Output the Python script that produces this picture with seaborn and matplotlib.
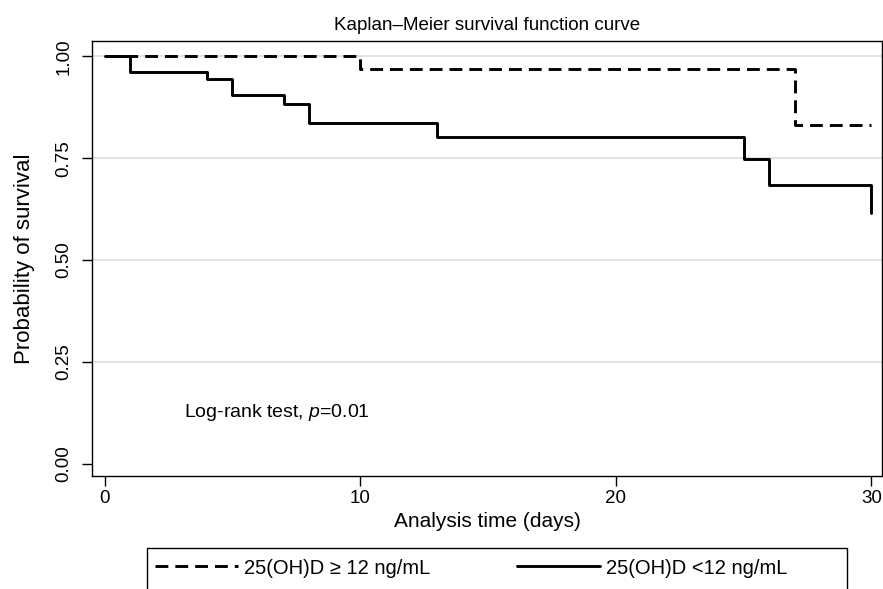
import numpy as np
import pandas as pd
import matplotlib
matplotlib.use("Agg")
import matplotlib.pyplot as plt
from matplotlib.patches import Rectangle
import seaborn as sns

# Step points (time in days, survival probability)
high_time = [0, 10, 27, 30]
high_surv = [1.0, 0.969, 0.831, 0.831]

low_time = [0, 1, 4, 5, 7, 8, 13, 25, 26, 30]
low_surv = [1.0, 0.961, 0.944, 0.904, 0.883, 0.837, 0.802, 0.747, 0.684, 0.616]

group_labels = ["25(OH)D \u2265 12 ng/mL", "25(OH)D <12 ng/mL"]
x_ticks = [0, 10, 20, 30]
y_ticks = [0.0, 0.25, 0.5, 0.75, 1.0]

df = pd.concat([
    pd.DataFrame({"time": high_time, "surv": high_surv, "group": group_labels[0]}),
    pd.DataFrame({"time": low_time, "surv": low_surv, "group": group_labels[1]}),
])

sns.set_theme(style="white")
plt.rcParams["font.family"] = ["Liberation Sans", "DejaVu Sans"]
plt.rcParams["mathtext.fontset"] = "custom"
plt.rcParams["mathtext.it"] = "Liberation Sans:italic"
plt.rcParams["mathtext.rm"] = "Liberation Sans"
for key in ["text.color", "axes.labelcolor", "xtick.color", "ytick.color"]:
    plt.rcParams[key] = "black"

fig = plt.figure(figsize=(8.83, 5.89), dpi=100)
ax = fig.add_axes([0.104, 0.192, 0.895, 0.738])

sns.lineplot(data=df, x="time", y="surv", hue="group", style="group",
             palette=["black", "black"], dashes=[(4.4, 2.4), ""],
             estimator=None, sort=False, drawstyle="steps-post",
             linewidth=2.1, ax=ax, legend=False)

ax.set_xlim(-0.5, 30.42)
ax.set_ylim(-0.03, 1.037)
ax.set_xticks(x_ticks)
ax.set_yticks(y_ticks)
ax.set_yticklabels([f"{v:.2f}" for v in y_ticks], rotation=90, va="center")
ax.tick_params(axis="both", direction="out", length=7, width=1, color="black",
               labelsize=13.5, bottom=True, left=True)
ax.tick_params(axis="x", pad=3)
ax.tick_params(axis="y", pad=7)
for v in y_ticks[1:]:
    ax.axhline(v, color="#e2e2e2", linewidth=1.4, zorder=0)
for s in ax.spines.values():
    s.set_color("black")
    s.set_linewidth(1.0)

ax.set_xlabel("Analysis time (days)", fontsize=15, labelpad=4)
ax.set_ylabel("Probability of survival", fontsize=16, labelpad=15)
ax.set_title("Kaplan\u2013Meier survival function curve", fontsize=13.5, pad=8)

ax.text(3.1, 0.125, "Log-rank test, $p$=0.01", fontsize=14, va="center", ha="left")

# legend box below the plot (bottom edge runs off the figure)
box_top = 1 - 548 / 589
fig.patches.append(Rectangle((147 / 883, -0.1), 700 / 883, box_top + 0.1,
                             transform=fig.transFigure, fill=False,
                             edgecolor="black", linewidth=1.0))
handles = ax.get_lines()[:2]
fig.legend(handles, group_labels, loc="center left", ncol=2,
           bbox_to_anchor=(155 / 883, 1 - 568 / 589), frameon=False,
           fontsize=14.5, handlelength=4.1, handletextpad=0.33,
           columnspacing=4.3, borderpad=0, borderaxespad=0)

fig.savefig("out.png", dpi=100)
